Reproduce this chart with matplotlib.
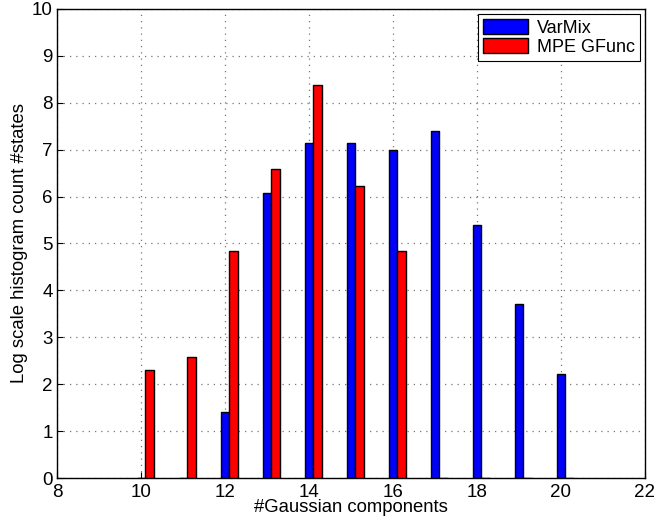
import numpy as np
import matplotlib.pyplot as plt

plt.rcParams['font.family'] = ['Liberation Sans', 'DejaVu Sans']

# Number of Gaussian components per state
components = np.arange(10, 21)
varmix = [0, 0, 1.40, 6.08, 7.14, 7.15, 6.99, 7.39, 5.39, 3.72, 2.21]
mpe_gfunc = [2.31, 2.57, 4.83, 6.58, 8.39, 6.22, 4.85, 0, 0, 0, 0]

width = 0.2

fig = plt.figure(figsize=(6.62, 5.29), dpi=100)
ax = fig.add_axes([0.0861, 0.0964, 0.8882, 0.8866])

ax.bar(components, varmix, width, color='#0000ff', edgecolor='black',
       linewidth=1.0, label='VarMix', zorder=3)
ax.bar(components + width, mpe_gfunc, width, color='#ff0000', edgecolor='black',
       linewidth=1.0, label='MPE GFunc', zorder=3)

ax.set_xlim(8, 22)
ax.set_ylim(0, 10)
ax.set_xticks(np.arange(8, 23, 2))
ax.set_yticks(np.arange(0, 11, 1))
ax.tick_params(direction='in', labelsize=13.5, length=4)
ax.tick_params(axis='x', pad=4)
ax.tick_params(axis='y', pad=3)
ax.grid(True, linestyle=(0, (1, 4)), color='#777777', linewidth=0.9, zorder=0)
for s in ax.spines.values():
    s.set_linewidth(1.0)

ax.set_xlabel('#Gaussian components', fontsize=13.3, labelpad=-1)
ax.set_ylabel('Log scale histogram count #states', fontsize=13.3, labelpad=3)

leg = ax.legend(loc='upper right', fontsize=13, fancybox=False, framealpha=1,
                edgecolor='black', borderaxespad=0.3, handlelength=2.5,
                handleheight=0.9, borderpad=0.25, labelspacing=0.1,
                handletextpad=0.5)
leg.get_frame().set_linewidth(0.8)

fig.savefig('out.png', dpi=100)
